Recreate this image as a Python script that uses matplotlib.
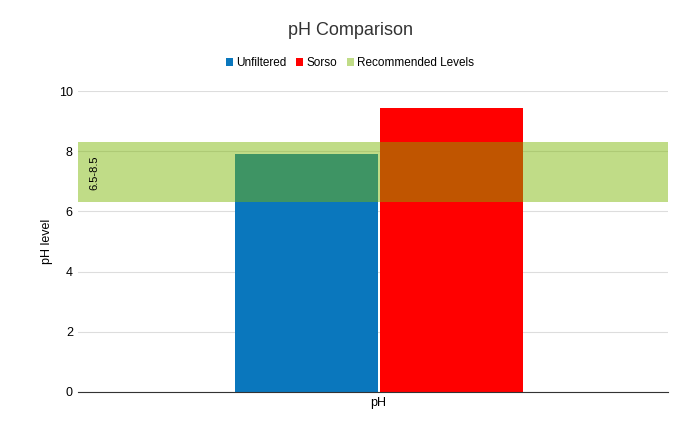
import matplotlib
matplotlib.use("Agg")
import matplotlib.pyplot as plt

categories = ["pH"]
series = ["Unfiltered", "Sorso"]
values = [7.9, 9.43]
colors = ["#0a77bd", "#ff0000"]
band_low, band_high = 6.3, 8.3
band_label = "6.5-8.5"
yticks = [0, 2, 4, 6, 8, 10]

plt.rcParams["font.family"] = "Liberation Sans"
fig = plt.figure(figsize=(7, 4.34), dpi=100)
ax = fig.add_axes([0.111, 0.097, 0.843, 0.693])

xs = [-0.5, 0.515]
handles = []
for x, v, c, s in zip(xs, values, colors, series):
    handles.append(ax.bar(x, v, width=1.0, color=c, label=s, zorder=2))
handles.append(ax.axhspan(band_low, band_high, color="#79b500", alpha=0.47, lw=0, zorder=3,
                          label="Recommended Levels"))
ax.text(-1.98, (band_low + band_high) / 2, band_label, rotation=90, ha="center", va="center", fontsize=8, zorder=4)

ax.set_xlim(-2.1, 2.03)
ax.set_ylim(0, 10)
ax.set_yticks(yticks)
ax.set_xticks([0])
ax.set_xticklabels(categories)
ax.grid(axis="y", color="#dddddd", lw=0.8, zorder=0)
for s in ["top", "right", "left"]:
    ax.spines[s].set_visible(False)
ax.spines["bottom"].set_color("#333333")
ax.tick_params(length=0, labelsize=9)
ax.set_ylabel("pH level", fontsize=9)

fig.text(0.5, 0.93, "pH Comparison", ha="center", va="center", fontsize=13, color="#333333")
fig.legend(handles=handles, labels=series + ["Recommended Levels"], loc="center",
           bbox_to_anchor=(0.5, 0.855), ncol=3, frameon=False, fontsize=8.5,
           handlelength=0.6, handleheight=0.6, handletextpad=0.3, columnspacing=0.8)
fig.savefig("out.png")
